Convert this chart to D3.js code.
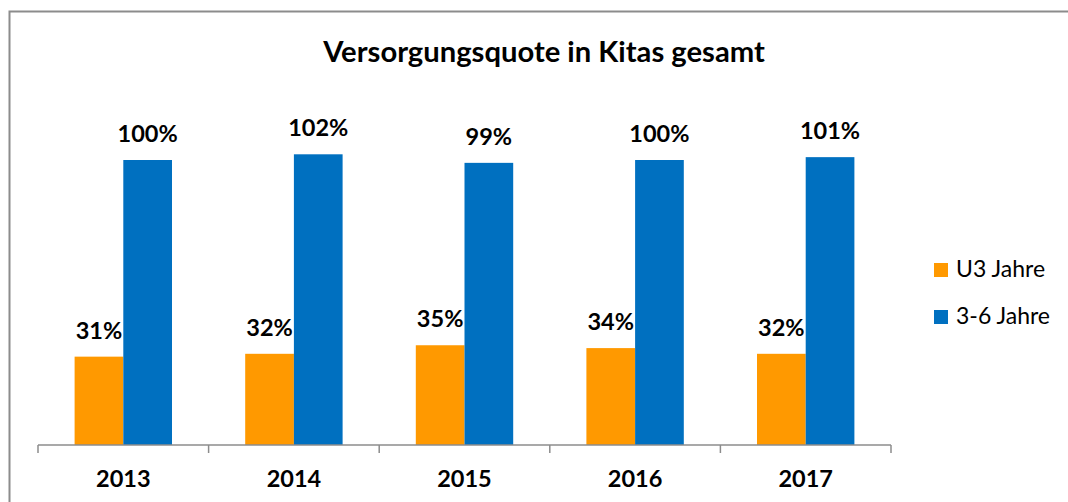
<!DOCTYPE html>
<html>
<head>
<meta charset="utf-8">
<script src="https://cdn.jsdelivr.net/npm/d3@7"></script>
<style>
  body { margin: 0; background: #fff; overflow: hidden; }
  svg { display: block; font-family: Lato, "Open Sans", sans-serif; }
</style>
</head>
<body>
<div id="chart"></div>
<script>
var years = ["2013", "2014", "2015", "2016", "2017"];
var seriesNames = ["U3 Jahre", "3-6 Jahre"];
var u3 = [31, 32, 35, 34, 32];
var kids36 = [100, 102, 99, 100, 101];
var colors = ["#ff9900", "#0070c0"];

var width = 1068, height = 502;

var svg = d3.select("#chart").append("svg")
    .attr("width", width)
    .attr("height", height);

// chart border: only top and left edges are inside the picture
svg.append("path")
    .attr("d", "M9.5," + height + "V11.5H" + width)
    .attr("fill", "none")
    .attr("stroke", "#8c8c8c")
    .attr("stroke-width", 2);

svg.append("text")
    .attr("x", 544).attr("y", 62)
    .attr("text-anchor", "middle")
    .attr("font-weight", "bold")
    .attr("font-size", 29.2)
    .text("Versorgungsquote in Kitas gesamt");

var left = 38, right = 891, baseline = 445;

var x0 = d3.scaleBand().domain(years).range([left, right]).padding(0);
var barW = 48.7;
var x1 = d3.scaleBand().domain([0, 1])
    .range([(x0.bandwidth() - 2 * barW) / 2, (x0.bandwidth() + 2 * barW) / 2]);
var y = d3.scaleLinear().domain([0, 100]).range([baseline, 160]);

var data = years.map(function(yr, i) {
  return { year: yr, values: [u3[i], kids36[i]] };
});

var groups = svg.selectAll(".year")
    .data(data)
  .enter().append("g")
    .attr("transform", function(d) { return "translate(" + x0(d.year) + ",0)"; });

groups.selectAll("rect")
    .data(function(d) { return d.values; })
  .enter().append("rect")
    .attr("x", function(d, i) { return x1(i); })
    .attr("y", function(d) { return y(d); })
    .attr("width", x1.bandwidth())
    .attr("height", function(d) { return baseline - y(d); })
    .attr("fill", function(d, i) { return colors[i]; });

groups.selectAll("text.val")
    .data(function(d) { return d.values; })
  .enter().append("text")
    .attr("class", "val")
    .attr("x", function(d, i) { return x1(i) + x1.bandwidth() / 2; })
    .attr("y", function(d) { return y(d) - 18; })
    .attr("text-anchor", "middle")
    .attr("font-weight", "bold")
    .attr("font-size", 23.5)
    .text(function(d) { return d + "%"; });

// x axis with ticks at category boundaries
var axis = svg.append("g").attr("transform", "translate(0," + baseline + ")");
axis.append("line")
    .attr("x1", left).attr("x2", right)
    .attr("stroke", "#8c8c8c").attr("stroke-width", 1.5);
axis.selectAll("line.tick")
    .data(years.map(function(yr) { return x0(yr); }).concat([right]))
  .enter().append("line")
    .attr("class", "tick")
    .attr("x1", function(d) { return d; }).attr("x2", function(d) { return d; })
    .attr("y1", 0).attr("y2", 8)
    .attr("stroke", "#8c8c8c").attr("stroke-width", 1.5);
axis.selectAll("text")
    .data(years)
  .enter().append("text")
    .attr("x", function(d) { return x0(d) + x0.bandwidth() / 2; })
    .attr("y", 42)
    .attr("text-anchor", "middle")
    .attr("font-weight", "bold")
    .attr("font-size", 23.5)
    .text(function(d) { return d; });

// legend
var legend = svg.selectAll(".legend")
    .data(seriesNames)
  .enter().append("g")
    .attr("transform", function(d, i) { return "translate(934," + (263 + i * 47) + ")"; });
legend.append("rect")
    .attr("width", 14).attr("height", 14)
    .attr("fill", function(d, i) { return colors[i]; });
legend.append("text")
    .attr("x", 22).attr("y", 14)
    .attr("font-size", 23)
    .text(function(d) { return d; });
</script>
</body>
</html>
